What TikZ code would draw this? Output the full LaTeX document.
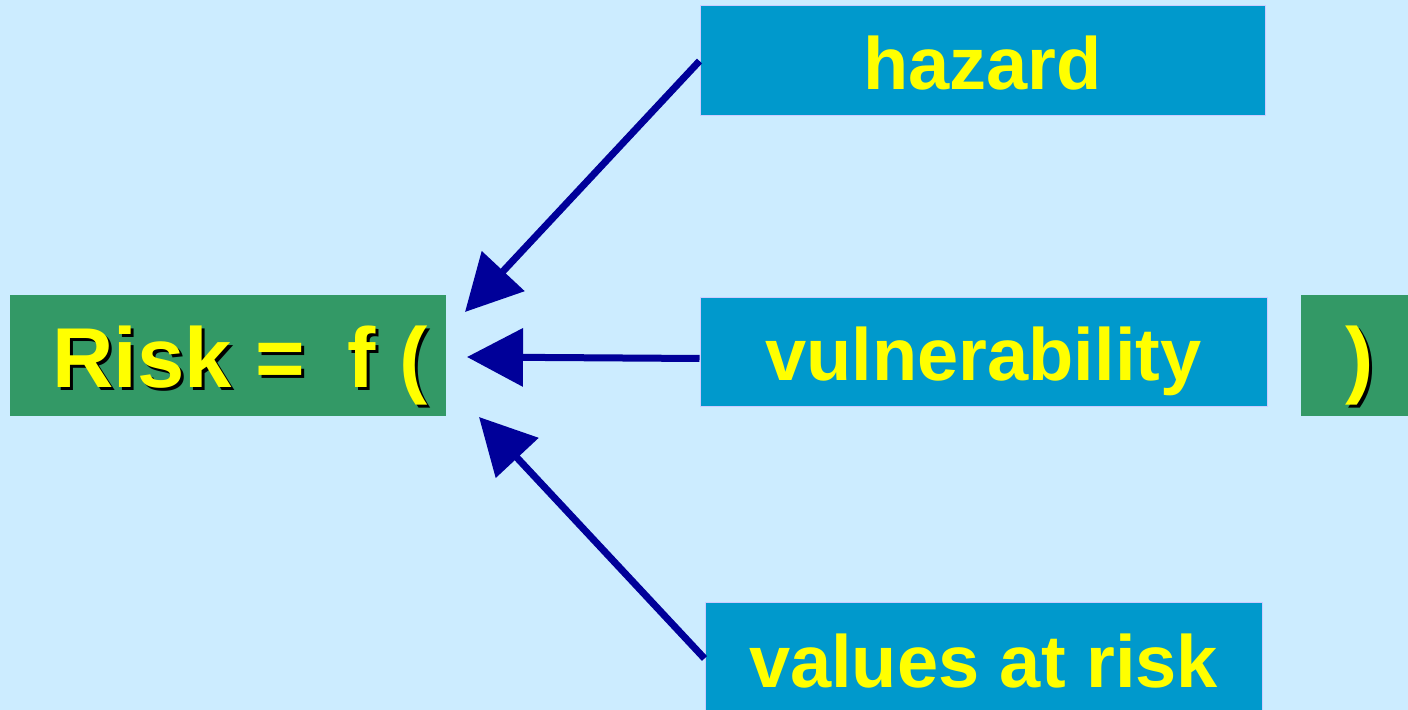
\documentclass[tikz,border=0pt]{standalone}
\usepackage{fontspec}
\setmainfont{Liberation Sans}
\usetikzlibrary{arrows.meta}

\definecolor{bgblue}{RGB}{204,236,255}
\definecolor{riskgreen}{RGB}{51,153,102}
\definecolor{boxblue}{RGB}{0,153,204}
\definecolor{boxline}{RGB}{204,204,255}
\definecolor{arrowblue}{RGB}{0,0,153}
\definecolor{txtyellow}{RGB}{255,255,0}

\begin{document}
\begin{tikzpicture}[x=0.5pt, y=-0.5pt,
    greenbox/.style={fill=riskgreen, inner sep=0pt, minimum height=60.5pt},
    factor/.style={fill=boxblue, draw=boxline, line width=0.5pt, inner sep=0pt,
      text=txtyellow, font=\fontsize{37}{44}\selectfont\bfseries,
      text height=28.5pt, text depth=0pt},
    bigtext/.style={anchor=base west, inner sep=0pt,
      font=\fontsize{42.5}{50}\selectfont\bfseries},
    arr/.style={draw=arrowblue, line width=3.5pt,
      -{Triangle[length=28pt,width=28.5pt]}, arrowblue}]
  \fill[bgblue] (0,0) rectangle (1408,710);
  \useasboundingbox (0,0) rectangle (1408,710);

  % left and right green boxes
  \node[greenbox, minimum width=218pt] (lbox) at (228,356) {};
  \node[greenbox, minimum width=60pt] (rbox) at (1361,356) {};

  \coordinate (L1) at (52,388);
  \coordinate (L2) at (1345,388);
  \node[bigtext, text=black] (lshadow) at ([xshift=1.5pt,yshift=-1.5pt]L1) {Risk =\hspace{0.5em}f (};
  \node[bigtext, text=txtyellow] (ltext) at (L1) {Risk =\hspace{0.5em}f (};
  \node[bigtext, text=black] (rshadow) at ([xshift=1.5pt,yshift=-1.5pt]L2) {)};
  \node[bigtext, text=txtyellow] (rtext) at (L2) {)};

  % the three factors
  \node[factor, minimum width=282.5pt, minimum height=55pt] (haz) at (982.5,61) {hazard};
  \node[factor, minimum width=283.5pt, minimum height=54.5pt] (vul) at (983.5,352.5) {vulnerability};
  \node[factor, minimum width=278.5pt, minimum height=55.5pt] (val) at (983.5,658.5) {values at risk};

  \coordinate (tipA) at (465,312);
  \coordinate (tipB) at (467,357);
  \coordinate (tipC) at (479,417);

  \draw[arr] (haz.west) -- (tipA);
  \draw[arr] ([yshift=-3pt]vul.west) -- (tipB);
  \draw[arr] (val.west) -- (tipC);
\end{tikzpicture}
\end{document}
